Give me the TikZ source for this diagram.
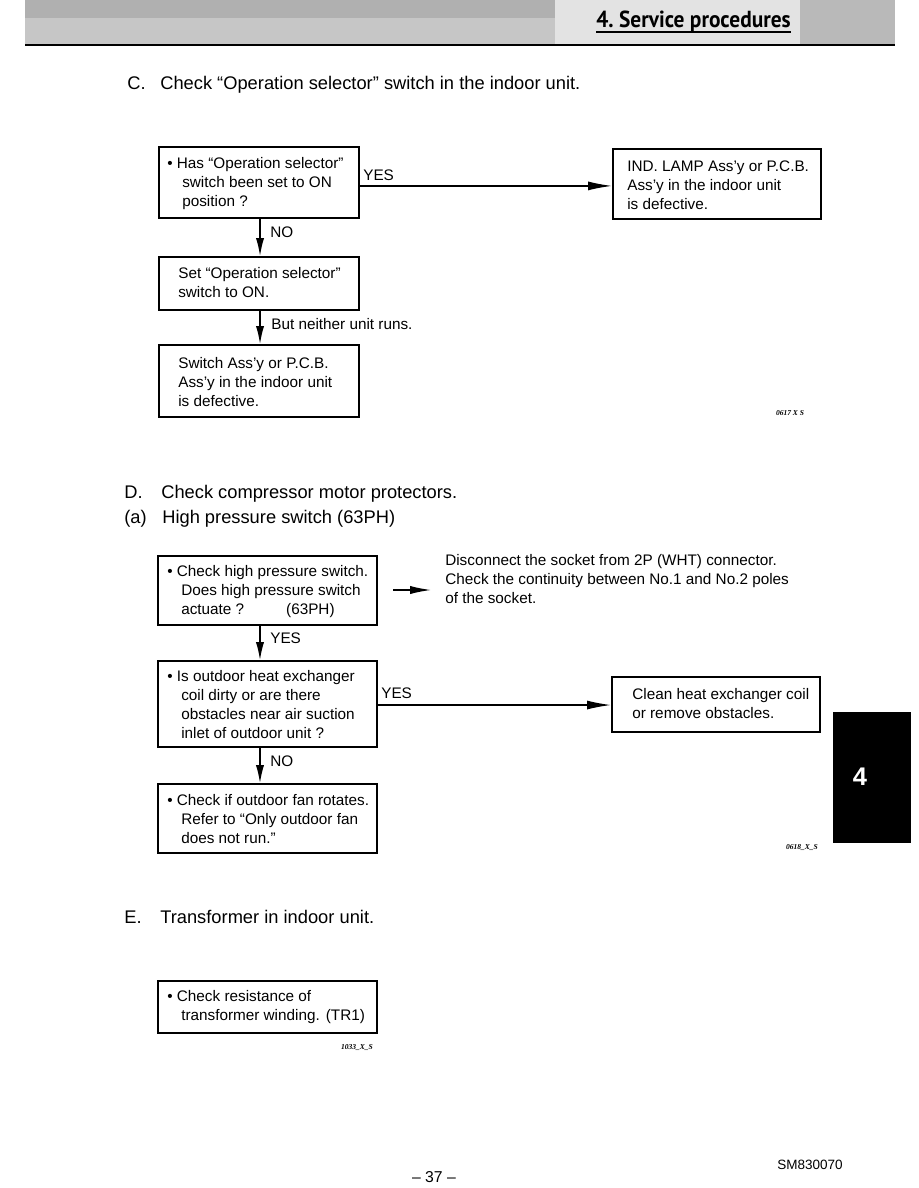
\documentclass[tikz,border=0pt]{standalone}
\usepackage{fontspec}
\setmainfont{Liberation Sans}
\newfontfamily\hdfont{PT Sans}
\newfontfamily\codefont{Liberation Serif}
\usetikzlibrary{arrows.meta,calc}
\begin{document}
\begin{tikzpicture}[x=0.6667pt,y=-0.6667pt,
  box/.style 2 args={draw, line width=1.3pt, anchor=north west, inner sep=0pt,
     minimum width={#1*0.6667pt}, minimum height={#2*0.6667pt}},
  txt/.style={font=\fontsize{10.2}{12.67}\selectfont, align=left, inner sep=0pt, anchor=west},
  lbl/.style={font=\fontsize{10.2}{12.67}\selectfont, inner sep=0pt, anchor=west},
  hd/.style={font=\fontsize{12.2}{14}\selectfont, inner sep=0pt, anchor=base west},
  code/.style={font=\codefont\fontsize{5}{6}\selectfont\bfseries\itshape, inner sep=0pt},
  varr/.style={line width=0.9pt, -{Latex[length=12pt,width=5.5pt]}},
  harr/.style={line width=0.9pt, -{Latex[length=16pt,width=6pt]}}
]
\useasboundingbox (0,0) rectangle (918,1188);
\fill[white] (0,0) rectangle (918,1188);
% header band
\fill[gray!62] (25,0) rectangle (555,18);
\fill[gray!45] (25,18) rectangle (555,44);
\fill[gray!22] (555,0) rectangle (800,44);
\fill[gray!55] (800,0) rectangle (895,44);
\draw[line width=1.4pt] (25,45) -- (895,45);
\node[anchor=base west, inner sep=0pt] (title) at (596,28)
  {\hdfont\bfseries\fontsize{15.5}{17}\selectfont\scalebox{0.92}[1]{4.~Service procedures}};
\draw[line width=1.2pt] (title.south west) ++(0,-1) coordinate (ul1) -- (ul1 -| title.south east);

% Section C
\node[hd] (hc1) at (127,90) {C.};
\node[hd] (hc2) at (160,90) {Check “Operation selector” switch in the indoor unit.};

\node[box={200}{71}] (c1) at (158,146) {};
\node[txt] (c1t) at ($(c1.west)+(9,1)$) {• Has “Operation selector”\\\hspace*{10pt}switch been set to ON\\\hspace*{10pt}position ?};
\node[box={208}{70}] (c2) at (612,148) {};
\node[txt] (c2t) at ($(c2.west)+(15,1)$) {IND. LAMP Ass’y or P.C.B.\\Ass’y in the indoor unit\\is defective.};
\node[box={200}{53}] (c3) at (158,256) {};
\node[txt] (c3t) at ($(c3.west)+(20,-1)$) {Set “Operation selector”\\switch to ON.};
\node[box={200}{72}] (c4) at (158,344) {};
\node[txt] (c4t) at ($(c4.west)+(20,1)$) {Switch Ass’y or P.C.B.\\Ass’y in the indoor unit\\is defective.};

\draw[harr] ([yshift=-2.3pt]c1.east) coordinate (cy) -- (cy -| c2.west);
\node[lbl] (cyes) at (363,175) {YES};
\draw[varr] ([xshift=0.7pt]c1.south) -- ([xshift=0.7pt]c3.north);
\node[lbl] (cno) at (270,232) {NO};
\draw[varr] ([xshift=0.7pt]c3.south) -- ([xshift=0.7pt]c4.north);
\node[lbl] (cbut) at (271,324) {But neither unit runs.};
\node[code] (code1) at (790,413) {0617 X S};

% Section D
\node[hd] (hd1) at (124,498) {D.};
\node[hd] (hd2) at (161,498) {Check compressor motor protectors.};
\node[hd] (hd3) at (124,523) {(a)};
\node[hd] (hd4) at (162,523) {High pressure switch (63PH)};

\node[box={219}{69}] (d1) at (157,555) {};
\node[txt] (d1t) at ($(d1.west)+(10,1)$) {• Check high pressure switch.\\\hspace*{9.3pt}Does high pressure switch\\\hspace*{9.3pt}actuate ?\hspace{28pt}(63PH)};
\coordinate (sa) at (393,590);
\coordinate (sb) at (431,590);
\draw[line width=0.9pt, -{Latex[length=14pt,width=5.5pt]}] (sa) -- (sb);
\node[txt, anchor=north west] (dtx) at (445,554) {Disconnect the socket from 2P (WHT) connector.\\Check the continuity between No.1 and No.2 poles\\of the socket.};

\node[box={219}{86}] (d2) at (157,660) {};
\node[txt] (d2t) at ($(d2.west)+(10,1)$) {• Is outdoor heat exchanger\\\hspace*{9.3pt}coil dirty or are there\\\hspace*{9.3pt}obstacles near air suction\\\hspace*{9.3pt}inlet of outdoor unit ?};
\node[box={208}{55}] (d3) at (611,676) {};
\node[txt] (d3t) at ($(d3.west)+(21,-0.5)$) {Clean heat exchanger coil\\or remove obstacles.};
\node[box={219}{69}] (d4) at (157,783) {};
\node[txt] (d4t) at ($(d4.west)+(10,1)$) {• Check if outdoor fan rotates.\\\hspace*{9.3pt}Refer to “Only outdoor fan\\\hspace*{9.3pt}does not run.”};

\draw[varr] ([xshift=-5pt]d1.south) -- ([xshift=-5pt]d2.north);
\node[lbl] (dyes1) at (270,638) {YES};
\draw[harr] ([yshift=-0.7pt]d2.east) coordinate (dy) -- (dy -| d3.west);
\node[lbl] (dyes2) at (381,693) {YES};
\draw[varr] ([xshift=-5pt]d2.south) -- ([xshift=-5pt]d4.north);
\node[lbl] (dno) at (270,761) {NO};
\node[code] (code2) at (802,848) {0618\_X\_S};

% tab
\fill[black] (833,712) rectangle (911,843);
\node[text=white, font=\fontsize{17}{20}\selectfont\bfseries, inner sep=0pt] (tab) at (860,777) {4};

% Section E
\node[hd] (he1) at (124,923) {E.};
\node[hd] (he2) at (160,923) {Transformer in indoor unit.};
\node[box={219}{52}] (e1) at (157,980) {};
\node[txt] (e1t) at ($(e1.west)+(10,0)$) {• Check resistance of\\\hspace*{9.3pt}transformer winding.\hspace{4pt}(TR1)};
\node[code] (code3) at (357,1048) {1033\_X\_S};

% footer
\node[font=\fontsize{10.5}{12}\selectfont, inner sep=0pt] (pg) at (434,1177) {– 37 –};
\node[font=\fontsize{9}{11}\selectfont, inner sep=0pt] (sm) at (810,1165) {SM830070};
\end{tikzpicture}
\end{document}
